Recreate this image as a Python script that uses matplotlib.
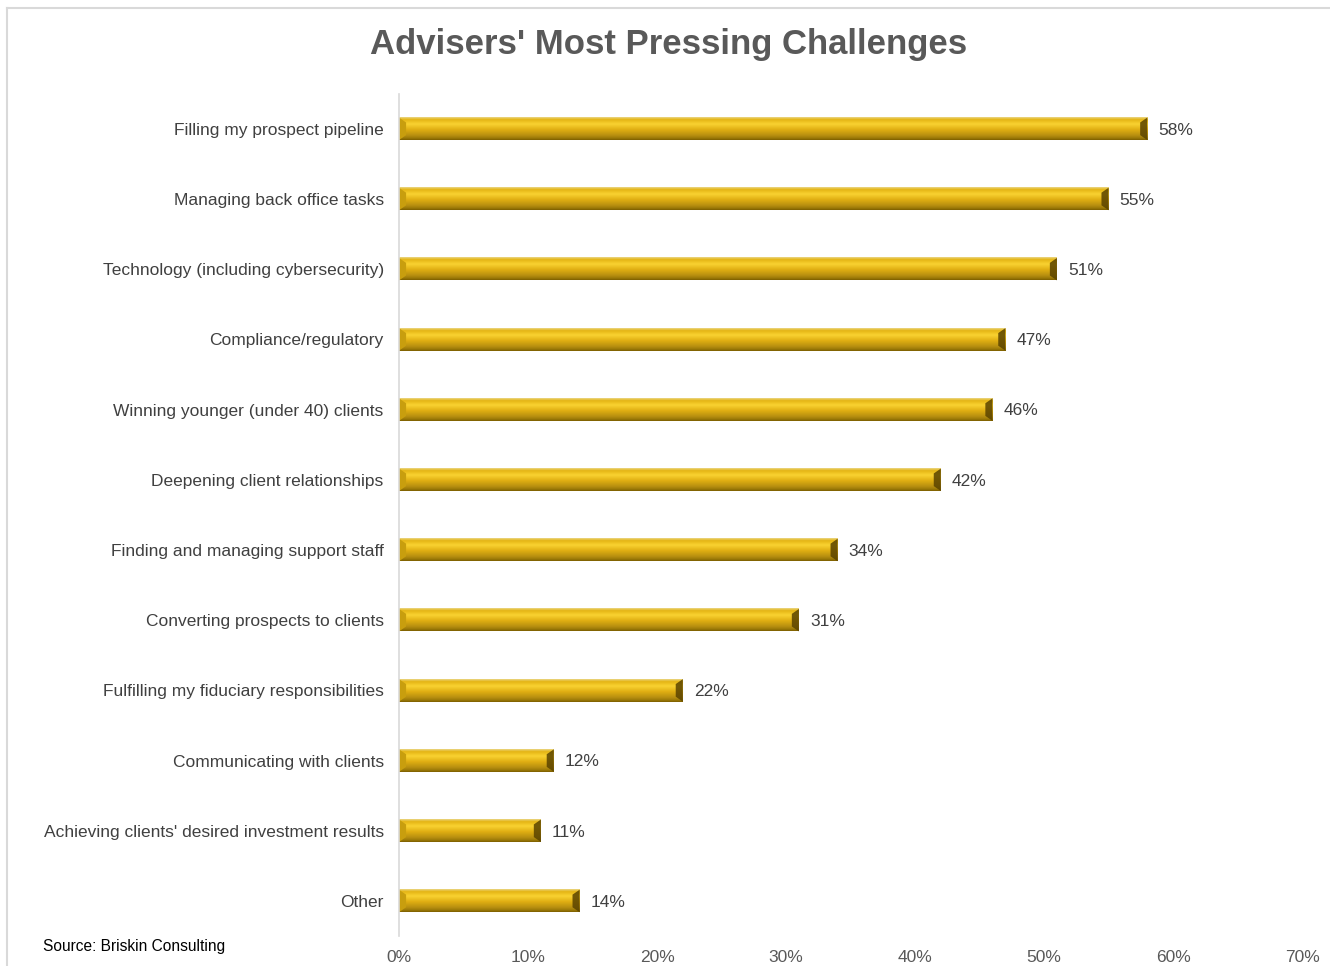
import numpy as np
import matplotlib.pyplot as plt
from matplotlib.colors import LinearSegmentedColormap
from matplotlib.patches import Polygon

plt.rcParams['font.family'] = ['Liberation Sans', 'DejaVu Sans']

categories = [
    "Filling my prospect pipeline",
    "Managing back office tasks",
    "Technology (including cybersecurity)",
    "Compliance/regulatory",
    "Winning younger (under 40) clients",
    "Deepening client relationships",
    "Finding and managing support staff",
    "Converting prospects to clients",
    "Fulfilling my fiduciary responsibilities",
    "Communicating with clients",
    "Achieving clients' desired investment results",
    "Other",
]
values = [58, 55, 51, 47, 46, 42, 34, 31, 22, 12, 11, 14]
xticks = [0, 10, 20, 30, 40, 50, 60, 70]

fig = plt.figure(figsize=(13.3, 9.66), dpi=100)
ax = fig.add_axes([0.3, 0.031, 0.679, 0.872])

# gold gradient, first row is the top edge of each bar
gold = LinearSegmentedColormap.from_list("gold", [
    (0.0, "#ead683"), (0.1, "#e4b414"), (0.3, "#f9d231"), (0.55, "#e0ae12"),
    (0.8, "#b89010"), (0.92, "#9c7a08"), (1.0, "#7e6000")])
grad = np.linspace(0, 1, 64).reshape(-1, 1)

h = 0.32
y = np.arange(len(categories))

for yi, v in zip(y, values):
    ax.imshow(grad, cmap=gold, aspect="auto", origin="upper",
              extent=(0, v, yi + h / 2, yi - h / 2), zorder=2)
    # bevelled ends
    cap = 0.55
    ax.add_patch(Polygon([(v - cap, yi - h / 2 + 0.07), (v, yi - h / 2),
                          (v, yi + h / 2), (v - cap, yi + h / 2 - 0.07)],
                         closed=True, facecolor="#5a4300", alpha=0.85,
                         edgecolor="none", zorder=2.5))
    ax.add_patch(Polygon([(0, yi - h / 2), (cap, yi - h / 2 + 0.07),
                          (cap, yi + h / 2 - 0.07), (0, yi + h / 2)],
                         closed=True, facecolor="#c89e0e", edgecolor="none", zorder=2.5))
    ax.text(v + 0.85, yi + 0.02, f"{v}%", va="center", ha="left",
            fontsize=12.5, color="#404040")

ax.set_xlim(0, 70)
ax.set_ylim(len(categories) - 0.5, -0.5)
ax.set_yticks(y)
ax.set_yticklabels(categories, fontsize=12.5, color="#404040")
ax.set_xticks(xticks)
ax.set_xticklabels([f"{t}%" for t in xticks], fontsize=12.5, color="#595959")
ax.tick_params(axis="both", length=0)
ax.tick_params(axis="y", pad=11)
ax.tick_params(axis="x", pad=10)

for s in ["top", "right", "bottom"]:
    ax.spines[s].set_visible(False)
ax.spines["left"].set_color("#d9d9d9")
ax.spines["left"].set_linewidth(1.2)

fig.text(0.503, 0.954, "Advisers' Most Pressing Challenges", ha="center", va="center",
         fontsize=25, fontweight="bold", color="#595959")
fig.text(0.032, 0.02, "Source: Briskin Consulting", ha="left", va="center",
         fontsize=11.2, color="#000000")

# chart frame edges
fig.add_artist(plt.Line2D([0.0053, 0.0053], [0, 0.9917], color="#d9d9d9", lw=1.5))
fig.add_artist(plt.Line2D([0.0053, 1.0], [0.9917, 0.9917], color="#d9d9d9", lw=1.5))

fig.savefig("out.png", dpi=100)
